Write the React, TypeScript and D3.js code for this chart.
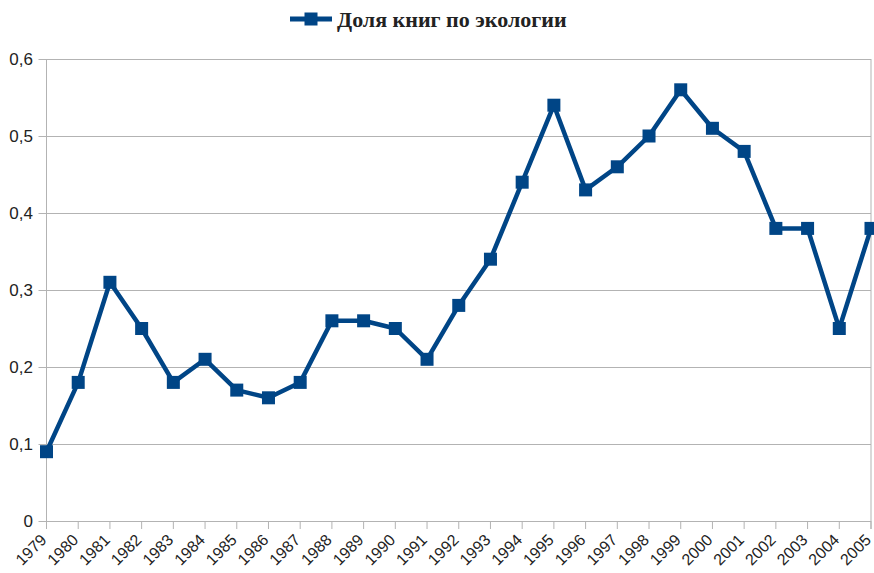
import React from "react";
import * as d3 from "d3";

const years = ["1979","1980","1981","1982","1983","1984","1985","1986","1987","1988","1989","1990","1991","1992","1993","1994","1995","1996","1997","1998","1999","2000","2001","2002","2003","2004","2005"];
const shares = [0.09,0.18,0.31,0.25,0.18,0.21,0.17,0.16,0.18,0.26,0.26,0.25,0.21,0.28,0.34,0.44,0.54,0.43,0.46,0.50,0.56,0.51,0.48,0.38,0.38,0.25,0.38];
const yTicks = [0, 0.1, 0.2, 0.3, 0.4, 0.5, 0.6];
const seriesName = "Доля книг по экологии";

const W = 874, H = 573;
const left = 46.5, right = 871, top = 59, bottom = 521;
const color = "#004586";
const grid = "#b3b3b3";
const textColor = "#222";

export default function App() {
  const x = d3.scalePoint<string>().domain(years).range([left, right]);
  const y = d3.scaleLinear().domain([0, 0.6]).range([bottom, top]);
  const line = d3.line<number>().x((_, i) => x(years[i])!).y(d => y(d));
  const fmt = (v: number) => (v === 0 ? "0" : v.toFixed(1).replace(".", ","));
  const ms = 13;
  return (
    <svg width={W} height={H} style={{ position: "absolute", left: 0, top: 0, background: "#fff" }}>
      {yTicks.map(t => (
        <g key={t}>
          <line x1={left - 8} x2={right} y1={Math.round(y(t)) + 0.5} y2={Math.round(y(t)) + 0.5} stroke={grid} strokeWidth={1} />
          <text x={33} y={y(t) + 6} textAnchor="end" fontFamily="Liberation Sans, Arial, sans-serif" fontSize={17} fill={textColor}>{fmt(t)}</text>
        </g>
      ))}
      <line x1={left} x2={left} y1={top} y2={bottom + 8} stroke={grid} strokeWidth={1} />
      <line x1={right} x2={right} y1={top} y2={bottom + 8} stroke={grid} strokeWidth={1} />
      {years.map(yr => (
        <g key={yr}>
          <line x1={x(yr)!} x2={x(yr)!} y1={bottom} y2={bottom + 8} stroke={grid} strokeWidth={1} />
          <text
            transform={`translate(${x(yr)! + 1},${bottom + 20}) rotate(-45)`}
            textAnchor="end"
            fontFamily="Liberation Sans, Arial, sans-serif"
            fontSize={16}
            fill={textColor}
          >{yr}</text>
        </g>
      ))}
      <path d={line(shares)!} fill="none" stroke={color} strokeWidth={4.5} strokeLinejoin="round" />
      {shares.map((v, i) => (
        <rect key={i} x={x(years[i])! - ms / 2} y={y(v) - ms / 2} width={ms} height={ms} fill={color} />
      ))}
      <g>
        <line x1={290} x2={332} y1={19} y2={19} stroke={color} strokeWidth={5} />
        <rect x={311 - 6.5} y={19 - 6.5} width={13} height={13} fill={color} />
        <text x={337} y={27} fontFamily="Liberation Serif, Times New Roman, serif" fontWeight="bold" fontSize={22} fill={textColor}>{seriesName}</text>
      </g>
    </svg>
  );
}
